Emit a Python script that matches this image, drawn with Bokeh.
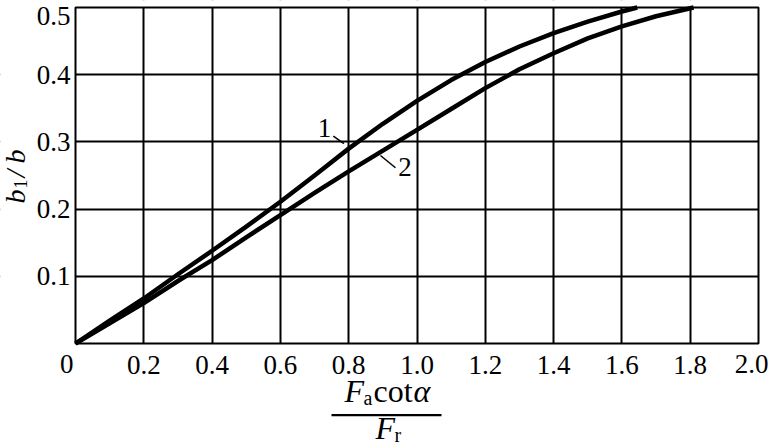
import math
from bokeh.plotting import figure
from bokeh.models import Label, FixedTicker, Range1d, BoxAnnotation, PrintfTickFormatter
from bokeh.core.properties import value
from bokeh.embed import file_html
from bokeh.resources import INLINE

# ---- data ----
x_tick_values = [0.2, 0.4, 0.6, 0.8, 1.0, 1.2, 1.4, 1.6, 1.8]
y_tick_values = [0.1, 0.2, 0.3, 0.4]
x_min, x_max = 0.0, 2.0
y_min, y_max = 0.0, 0.5

curve1_x = [0, 0.1, 0.2, 0.3, 0.4, 0.5, 0.6, 0.7, 0.8, 0.9, 1.0, 1.1, 1.2, 1.3, 1.4, 1.5, 1.6, 1.645]
curve1_y = [0, 0.034, 0.067, 0.103, 0.138, 0.174, 0.211, 0.250, 0.290, 0.327, 0.361, 0.392, 0.419,
            0.442, 0.462, 0.479, 0.494, 0.5]

curve2_x = [0, 0.1, 0.2, 0.3, 0.4, 0.5, 0.6, 0.7, 0.8, 0.9, 1.0, 1.1, 1.2, 1.3, 1.4, 1.5, 1.6, 1.7, 1.81]
curve2_y = [0, 0.030, 0.060, 0.093, 0.124, 0.158, 0.191, 0.224, 0.256, 0.287, 0.318, 0.349, 0.380,
            0.408, 0.432, 0.454, 0.472, 0.487, 0.5]

curve_labels = ["1", "2"]
curve_label_x = [0.729, 0.965]
curve_label_y = [0.320, 0.262]
leader_x0 = [0.755, 0.893]
leader_y0 = [0.3086, 0.2798]
leader_x1 = [0.786, 0.937]
leader_y1 = [0.2973, 0.2615]

SERIF = "Liberation Serif"
W, H = 770, 447
# pixel geometry of the grid box on the canvas
BOX_L, BOX_R, BOX_T, BOX_B = 75, 758, 7, 343
sx = (BOX_R - BOX_L) / (x_max - x_min)
sy = (BOX_B - BOX_T) / (y_max - y_min)

def X(px):
    return x_min + (px - BOX_L) / sx

def Y(py):
    return y_min + (BOX_B - py) / sy

p = figure(width=W, height=H, x_range=Range1d(X(0), X(W)), y_range=Range1d(Y(H), Y(0)),
           output_backend="svg", toolbar_location=None,
           min_border_left=0, min_border_right=0, min_border_top=0, min_border_bottom=0)
p.background_fill_color = "white"
p.border_fill_color = "white"
p.outline_line_color = None

p.xaxis.fixed_location = y_min
p.yaxis.fixed_location = x_min
for ax, ticks in ((p.xaxis, x_tick_values), (p.yaxis, y_tick_values)):
    ax.ticker = FixedTicker(ticks=ticks)
    ax.formatter = PrintfTickFormatter(format="%.1f")
    ax.axis_line_color = None
    ax.major_tick_line_color = None
    ax.minor_tick_line_color = None
    ax.major_tick_in = 0
    ax.major_tick_out = 0
    ax.major_label_text_font = SERIF
    ax.major_label_text_font_size = "27px"
    ax.major_label_text_color = "black"
p.xaxis.major_label_standoff = 12
p.yaxis.major_label_standoff = 5

p.xgrid.ticker = FixedTicker(ticks=x_tick_values)
p.ygrid.ticker = FixedTicker(ticks=y_tick_values)
for g in (p.xgrid, p.ygrid):
    g.grid_line_color = "black"
    g.grid_line_width = 2
    g.grid_line_alpha = 1.0

# white masks so the grid stays inside the box
far_l, far_r, far_t, far_b = X(-60), X(W + 60), Y(-60), Y(H + 60)
masks = (dict(left=far_l, right=x_min, bottom=far_b, top=far_t),
         dict(left=x_max, right=far_r, bottom=far_b, top=far_t),
         dict(left=far_l, right=far_r, bottom=far_b, top=y_min),
         dict(left=far_l, right=far_r, bottom=y_max, top=far_t))
for kw in masks:
    p.add_layout(BoxAnnotation(fill_color="white", fill_alpha=1.0, line_color=None,
                               level="underlay", **kw))
# frame of the box
p.add_layout(BoxAnnotation(left=x_min, right=x_max, bottom=y_min, top=y_max,
                           fill_color=None, fill_alpha=0, line_color="black", line_width=2,
                           line_alpha=1.0, level="underlay"))

p.line(curve1_x, curve1_y, line_width=4.5, color="black", line_join="round")
p.line(curve2_x, curve2_y, line_width=4.5, color="black", line_join="round")

p.segment(x0=leader_x0, y0=leader_y0, x1=leader_x1, y1=leader_y1, line_width=1.5, color="black")
p.text(x=curve_label_x, y=curve_label_y, text=curve_labels, text_font=value(SERIF),
       text_font_size="27px", text_align="center", text_baseline="alphabetic", text_color="black")

BASE_FIX = 0.37  # baseline correction, in em

def lab(text, px, py, size=27, style="normal", align="left", angle=0.0):
    if angle:
        px -= BASE_FIX * size
    else:
        py -= BASE_FIX * size
    p.add_layout(Label(x=X(px), y=Y(py), text=text, text_font=SERIF,
                       text_font_size=f"{size}px", text_font_style=style, text_align=align,
                       text_baseline="alphabetic", text_color="black", angle=angle))

# end tick labels
lab("0", 73, 373, align="right")
lab("2.0", 768, 373, align="right")
lab("0.5", 70, 25, align="right")

# y axis label b1/b (rotated, reading upward)
rot = math.pi / 2
lab("b", 25, 203, size=28, style="italic", angle=rot)
lab("1", 27, 188, size=18, angle=rot)
lab("/", 25, 177, size=28, style="italic", angle=rot)
lab("b", 25, 163, size=28, style="italic", angle=rot)

# x axis label: fraction  F_a cot(alpha) / F_r
lab("F", 344, 402, size=32, style="italic")
lab("a", 363, 405, size=20)
lab("cot", 373, 402, size=32)
lab("\u03b1", 413, 402, size=32, style="italic")
lab("F", 375, 439, size=32, style="italic")
lab("r", 394, 442, size=20)

p.add_layout(BoxAnnotation(left=X(331), right=X(441), top=Y(413.5), bottom=Y(415.8),
                           fill_color="black", fill_alpha=1.0, line_color=None))

open("out.html", "w").write(file_html(p, INLINE))
